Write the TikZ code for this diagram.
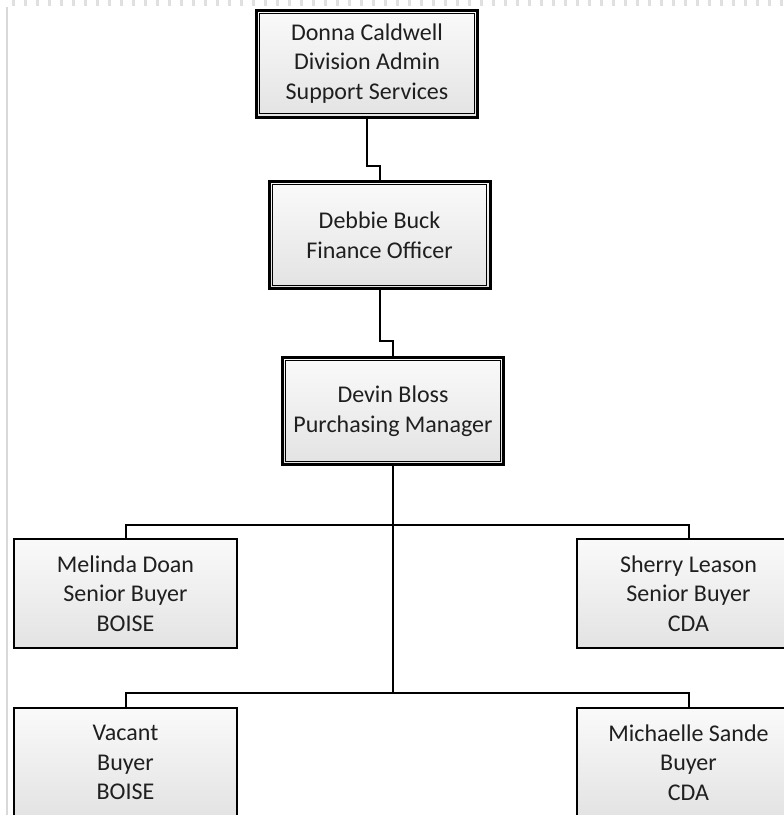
\documentclass[tikz,border=0pt]{standalone}
\usepackage{fontspec}
\setmainfont{Carlito}

\begin{document}
\begin{tikzpicture}[
    node distance=176pt,
    person/.style={draw=black, line width=1.6pt,
      top color=white!98!black, bottom color=white!89!black,
      minimum width=223pt, minimum height=109pt, align=center,
      text=black!88, font=\fontsize{24}{29.5}\selectfont},
    boss/.style={person, line width=3pt, minimum width=221pt, minimum height=107pt,
      path picture={\draw[line width=1.2pt]
        ([shift={(3.3pt,-3.3pt)}]path picture bounding box.north west) rectangle
        ([shift={(-3.3pt,3.3pt)}]path picture bounding box.south east);}},
    link/.style={draw=black, line width=2pt}]
  \path[use as bounding box, clip] (0,0) rectangle (784pt,-815pt);

  % page edge
  \draw[black!12, line width=6pt, dash pattern=on 2.5pt off 9.5pt] (12pt,-3pt) -- (784pt,-3pt);
  \draw[black!15, line width=1.2pt] (7pt,-7pt) -- (7pt,-815pt);

  \node[boss] (donna) at (367pt,-63.5pt) {Donna Caldwell\\Division Admin\\Support Services};
  \node[boss, below of=donna, node distance=171.5pt, xshift=12.5pt] (debbie) {Debbie Buck\\Finance Officer};
  \node[boss, below of=debbie, xshift=13.5pt] (devin) {Devin Bloss\\Purchasing Manager};
  \node[person, below of=devin, node distance=182.5pt, xshift=-267.5pt] (melinda) {Melinda Doan\\Senior Buyer\\BOISE};
  \node[person, right of=melinda, node distance=563pt] (sherry) {Sherry Leason\\Senior Buyer\\CDA};
  \node[person, below of=melinda, node distance=169pt] (vacant) {Vacant\\Buyer\\BOISE};
  \node[person, right of=vacant, node distance=563pt] (michaelle) {Michaelle Sande\\Buyer\\CDA};

  \coordinate (bus2) at ([yshift=14pt]vacant.north);

  \draw[link] (donna.south) -- ++(0,-47pt) -| (debbie.north);
  \draw[link] (debbie.south) -- ++(0,-51pt) -| (devin.north);
  \draw[link] (devin.south) -- (devin.south |- bus2);
  \draw[link] (melinda.north) -- ++(0,13pt) -| (sherry.north);
  \draw[link] (vacant.north) -- (bus2) -| (michaelle.north);
\end{tikzpicture}
\end{document}
